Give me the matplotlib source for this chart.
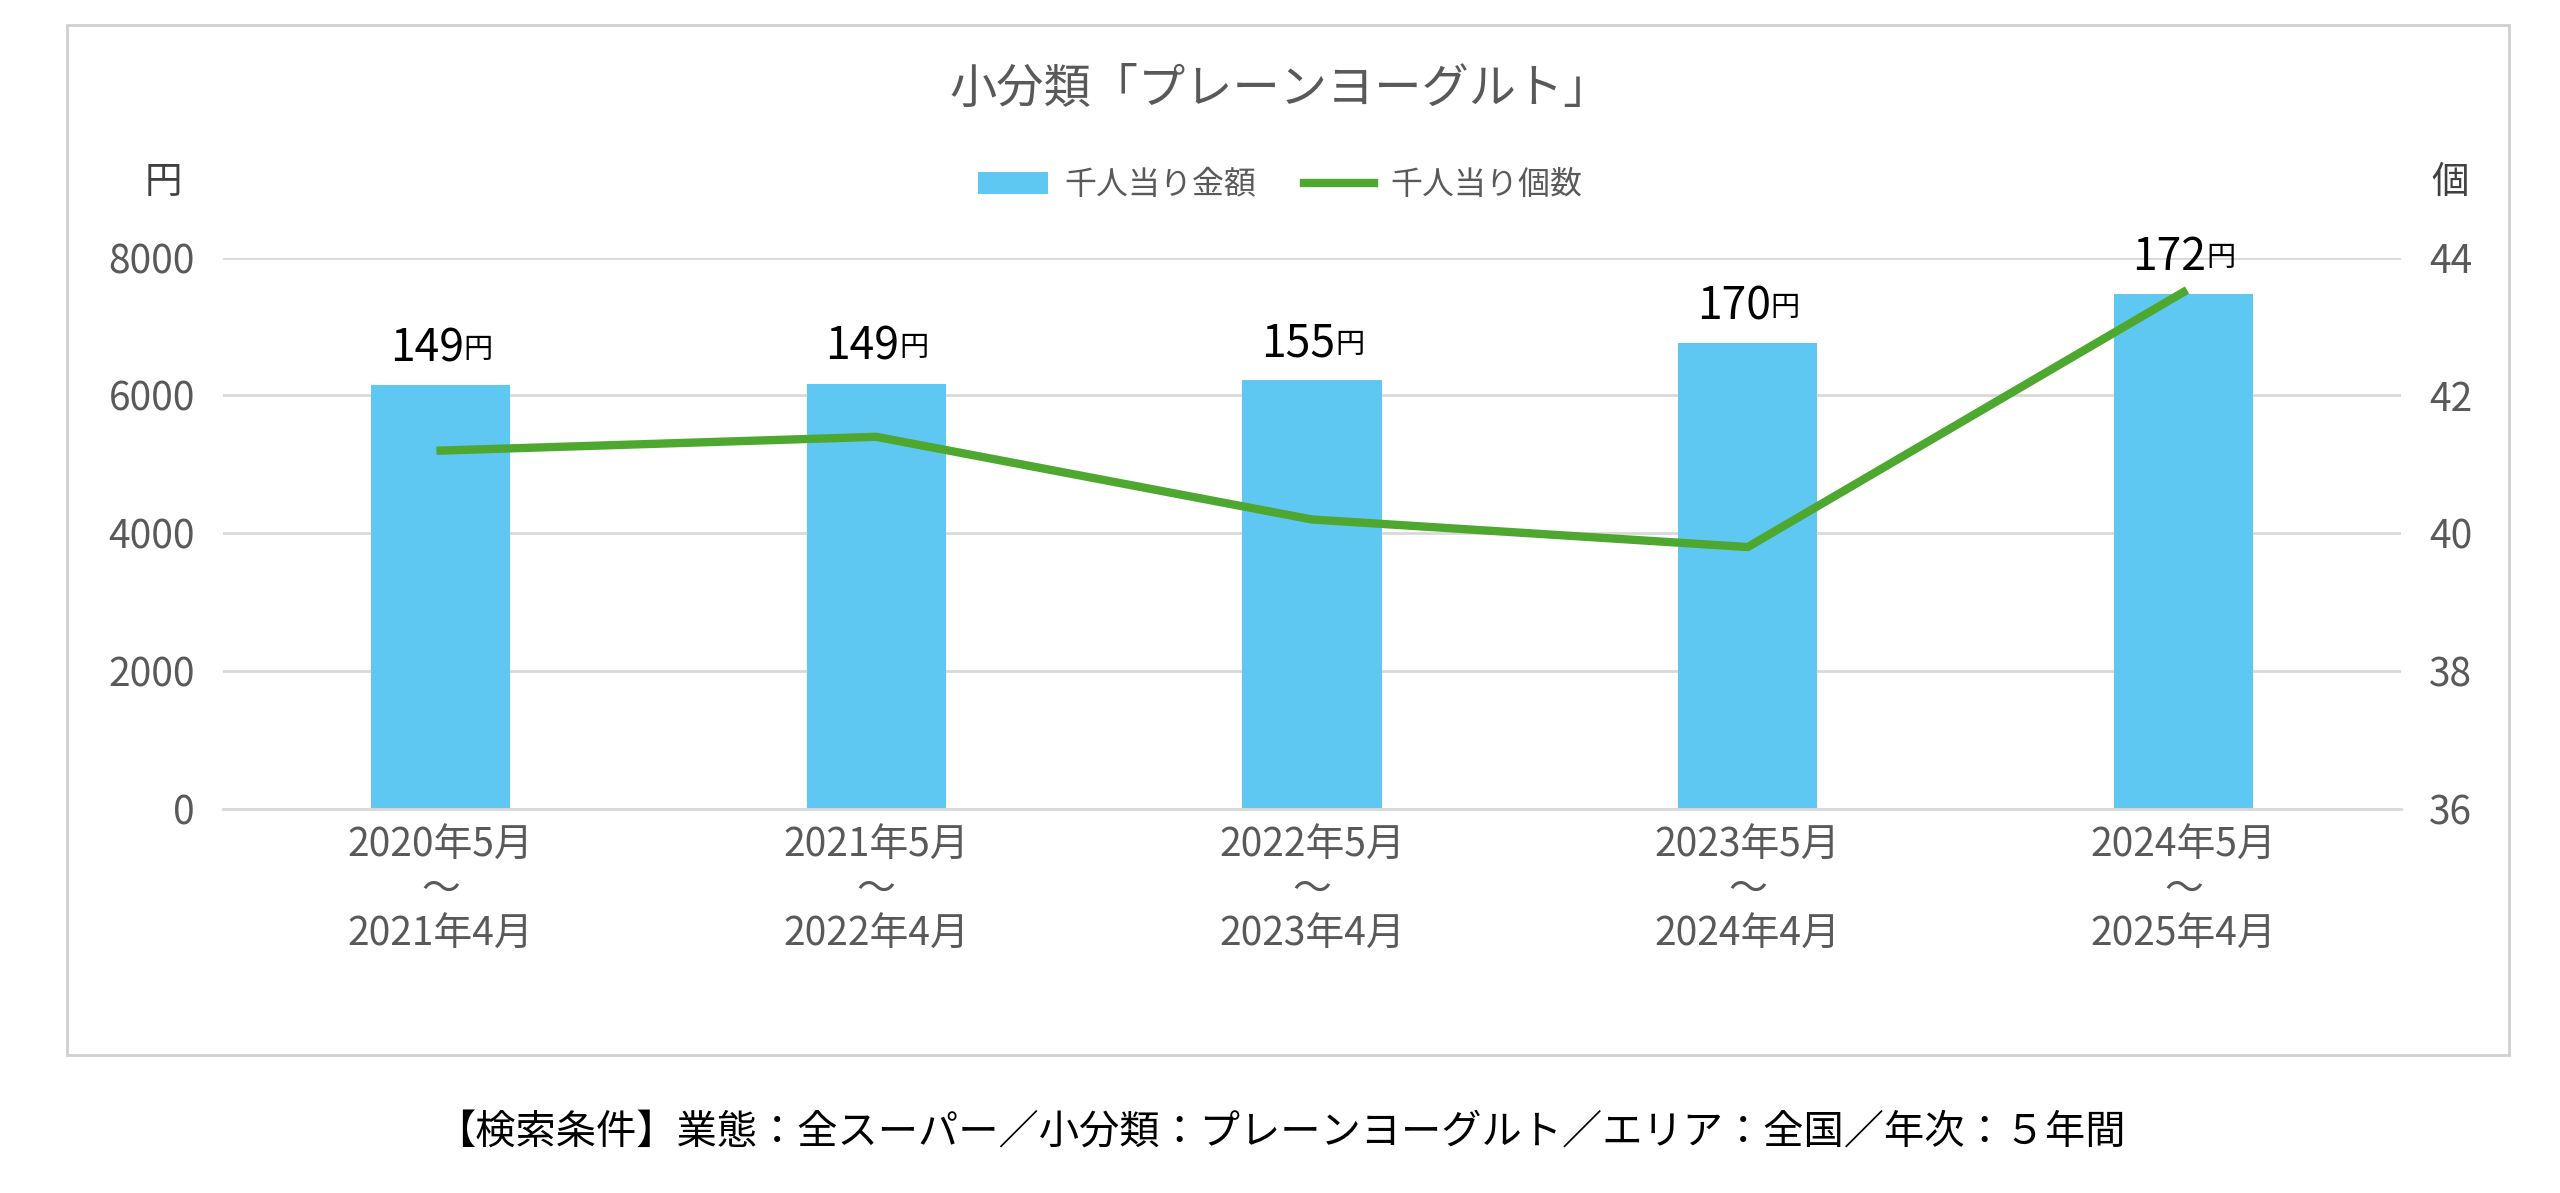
import matplotlib
matplotlib.use("Agg")
import matplotlib.pyplot as plt
from matplotlib.patches import Rectangle

plt.rcParams["font.family"] = "Noto Sans CJK JP"

periods = ["2020年5月\n～\n2021年4月", "2021年5月\n～\n2022年4月", "2022年5月\n～\n2023年4月",
           "2023年5月\n～\n2024年4月", "2024年5月\n～\n2025年4月"]
amount = [6150, 6170, 6220, 6760, 7480]
count = [41.2, 41.4, 40.2, 39.8, 43.5]
unit_price = [149, 149, 155, 170, 172]

fig = plt.figure(figsize=(25.6, 11.93), dpi=100)
fig.patches.append(Rectangle((0.026, 0.116), 0.954, 0.863, transform=fig.transFigure,
                             fill=False, edgecolor="#d0d0d0", linewidth=2))

ax = fig.add_axes([0.087, 0.322, 0.851, 0.462])
x = range(len(periods))
ax.bar(x, amount, width=0.32, color="#5fc8f2", label="千人当り金額", zorder=2)
ax.set_ylim(0, 8000)
ax.set_yticks([0, 2000, 4000, 6000, 8000])
ax.set_xlim(-0.5, 4.5)
ax.set_xticks(list(x))
ax.set_xticklabels(periods, fontsize=25, color="#595959", linespacing=1.15)
ax.grid(axis="y", color="#d9d9d9", linewidth=2, zorder=0)
for s in ["top", "right", "left"]:
    ax.spines[s].set_visible(False)
ax.spines["bottom"].set_color("#d9d9d9")
ax.spines["bottom"].set_linewidth(2)
ax.tick_params(length=0, labelsize=28, labelcolor="#595959", pad=12)
ax.tick_params(axis="y", pad=20)

ax2 = ax.twinx()
ax2.plot(x, count, color="#4ea72e", linewidth=6, label="千人当り個数", zorder=3)
ax2.set_ylim(36, 44)
ax2.set_yticks([36, 38, 40, 42, 44])
for s in ax2.spines.values():
    s.set_visible(False)
ax2.tick_params(length=0, labelsize=28, labelcolor="#595959", pad=20)

for i, (a, p) in enumerate(zip(amount, unit_price)):
    t = ax.annotate(str(p), xy=(i, a), xytext=(-10, 10), textcoords="offset points",
                    ha="center", va="bottom", fontsize=32, color="black")
    ax.annotate("円", xy=(1, 0.14), xycoords=t, ha="left", va="bottom", fontsize=21)

fig.text(0.5, 0.925, "小分類「プレーンヨーグルト」", ha="center", va="center", fontsize=34, color="#595959")
fig.text(0.064, 0.847, "円", ha="center", va="center", fontsize=27, color="#404040")
fig.text(0.957, 0.847, "個", ha="center", va="center", fontsize=27, color="#404040")
h1, l1 = ax.get_legend_handles_labels()
h2, l2 = ax2.get_legend_handles_labels()
fig.legend(h1 + h2, l1 + l2, loc="center", bbox_to_anchor=(0.5, 0.845), ncol=2,
           frameon=False, fontsize=23, labelcolor="#595959", handlelength=2.2,
           columnspacing=1.5, handletextpad=0.5)
fig.text(0.5, 0.05, "【検索条件】業態：全スーパー／小分類：プレーンヨーグルト／エリア：全国／年次：５年間",
         ha="center", va="center", fontsize=29, color="black")

fig.savefig("out.png", dpi=100)
